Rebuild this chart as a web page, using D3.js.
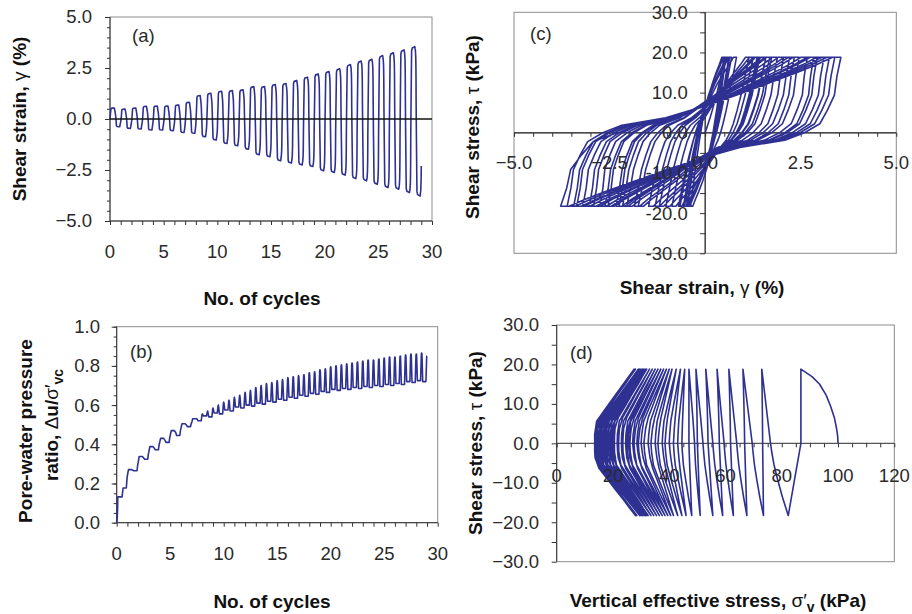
<!DOCTYPE html>
<html><head><meta charset="utf-8">
<script src="https://cdn.jsdelivr.net/npm/d3@7/dist/d3.min.js"></script>
<style>
body{margin:0;background:#fff;}
svg{display:block;font-family:"Liberation Sans",Arial,Helvetica,sans-serif;}
</style></head><body>
<svg id="fig" width="912" height="614"></svg>
<script>
// ---- Cyclic simple-shear test record (29 cycles) ----
// Peak shear strain reached in each cycle (%)
const CYCLE_STRAIN_MAX = [0.54,0.49,0.54,0.62,0.64,0.64,0.69,0.82,1.15,1.26,1.36,1.39,1.43,1.59,1.59,1.69,1.74,1.89,2.05,2.21,2.33,2.46,2.67,2.84,2.93,3.11,3.25,3.39,3.55];
const CYCLE_STRAIN_MIN = [-0.38,-0.46,-0.49,-0.54,-0.54,-0.57,-0.66,-0.70,-0.87,-1.03,-1.20,-1.31,-1.48,-1.75,-1.85,-2.05,-2.16,-2.25,-2.33,-2.54,-2.62,-2.75,-2.92,-3.03,-3.20,-3.36,-3.44,-3.61,-3.78];
const STRAIN_END = -2.3;
// Cyclic shear stress amplitude (kPa)
const TAU_POS = 18.8, TAU_NEG = -18.3;
// Vertical effective stress (kPa): start, at +peak, at -peak, and at the zero-stress crossings
const SIG_START = 100;
const SIG_PEAK_POS = [86.8,72.9,66.2,61.2,57.0,53.0,49.5,47.0,45.5,44.0,42.5,41.0,40.0,39.0,38.0,37.0,36.0,35.0,34.0,33.0,32.0,31.5,31.0,30.5,30.0,29.5,29.0,28.0,27.5];
const SIG_PEAK_NEG = [82.3,73.5,67.6,62.8,59.0,55.5,51.0,48.0,46.0,44.5,43.0,41.5,40.5,39.5,38.5,37.5,36.5,35.5,34.5,33.5,32.5,32.0,31.5,31.0,30.5,30.0,29.5,28.5,28.0];
const SIG_ZERO_UP   = [76.0,69.5,64.0,59.5,55.5,52.0,49.0,44.5,41.5,38.5,36.0,33.5,31.0,29.0,27.5,26.0,25.0,23.5,22.0,20.5,19.5,18.5,17.5,17.0,16.0,15.5,14.5,14.0,15.0];
const SIG_ZERO_DOWN = [86.8,73.2,66.8,61.8,57.8,53.8,50.0,47.0,43.0,40.0,37.5,35.0,32.5,30.0,28.5,27.0,25.5,24.5,23.0,21.5,20.0,19.0,18.0,17.0,16.5,15.5,15.0,14.0,13.5];
// How far each cycle's loop has turned from the narrow early shape to the S shape
const LOOP_SHAPE_WEIGHT = [0,0,0,0,0,0,0.05,0.15,0.3,0.4,0.5,0.55,0.6,0.65,0.7,0.75,0.8,0.85,0.9,0.9,0.95,0.95,1,1,1,1,1,1,1];

// Loop shapes along one stress reversal (s = -1 … +1 of the amplitude)
const RAMP_KNOTS = [-1,-0.75,-0.5,-0.3,-0.12,0,0.1,0.2,0.35,0.5,0.65,0.8,0.9,1];
const LOOP_EARLY = [0,0.07,0.14,0.2,0.26,0.3,0.34,0.38,0.46,0.55,0.65,0.77,0.86,0.94];
const LOOP_LATE  = [0,0.014,0.023,0.048,0.075,0.13,0.2,0.36,0.5,0.62,0.73,0.84,0.91,0.97];
const PATH_EARLY = [1,0.68,0.4,0.2,0.07,0,0.1,0.2,0.35,0.5,0.65,0.8,0.9,1];
const PATH_LATE  = [1,0.66,0.32,0.05,0,0,0,0.01,0.11,0.32,0.52,0.73,0.86,1];
const FIRST_LOAD_STRAIN = [0,0.12,0.24,0.4,0.55,0.68,0.8,0.88,0.95];
const FIRST_LOAD_SIG    = [0,0.01,0.04,0.1,0.2,0.32,0.5,0.7,1];
const HOLD_TIMES = [0.16,0.4];
const HOLD_CREEP = [0.99,1];
const RAMP_HALF = 0.1;

// Axis ticks and labels
const A_X_TICKS = [0,5,10,15,20,25,30];
const A_Y_TICKS = [-5,-2.5,0,2.5,5];
const B_X_TICKS = [0,5,10,15,20,25,30];
const B_Y_TICKS = [0,0.2,0.4,0.6,0.8,1.0];
const C_X_TICKS = [-5,-2.5,0,2.5,5];
const C_Y_TICKS = [-30,-20,-10,0,10,20,30];
const D_X_TICKS = [0,20,40,60,80,100,120];
const D_Y_TICKS = [-30,-20,-10,0,10,20,30];

// ---- build the time history: time, strain, stress, effective stress ----
const series = [];
const tauAt = (s, dir) => { const q = s * dir; return q >= 0 ? q * TAU_POS : -q * TAU_NEG; };
function ramp(tc, dir, g0, g1, sFrom, sZero, sTo, w, lastIdx) {
  const n = lastIdx === undefined ? RAMP_KNOTS.length - 1 : lastIdx;
  for (let i = 0; i <= n; i++) {
    const s = RAMP_KNOTS[i];
    const u = (1 - w) * LOOP_EARLY[i] + w * LOOP_LATE[i];
    const v = (1 - w) * PATH_EARLY[i] + w * PATH_LATE[i];
    const sig = s <= 0 ? sZero + (sFrom - sZero) * v : sZero + (sTo - sZero) * v;
    series.push({t: tc + s * RAMP_HALF, g: g0 + u * (g1 - g0), tau: tauAt(s, dir), sig});
  }
}
function hold(tc, dir, g0, g1, sig) {
  HOLD_TIMES.forEach((dt, i) => series.push({t: tc + dt, g: g0 + HOLD_CREEP[i] * (g1 - g0), tau: tauAt(1, dir), sig}));
}
const zeroIdx = RAMP_KNOTS.indexOf(0);
RAMP_KNOTS.slice(zeroIdx).forEach((s, j) => series.push({
  t: s * RAMP_HALF, g: CYCLE_STRAIN_MAX[0] * FIRST_LOAD_STRAIN[j], tau: s * TAU_POS,
  sig: SIG_START + (SIG_PEAK_POS[0] - SIG_START) * FIRST_LOAD_SIG[j]}));
hold(0, 1, 0, CYCLE_STRAIN_MAX[0], SIG_PEAK_POS[0]);
const nC = CYCLE_STRAIN_MAX.length;
for (let k = 0; k < nC; k++) {
  const w = LOOP_SHAPE_WEIGHT[k];
  ramp(k + 0.5, -1, CYCLE_STRAIN_MAX[k], CYCLE_STRAIN_MIN[k], SIG_PEAK_POS[k], SIG_ZERO_DOWN[k], SIG_PEAK_NEG[k], w);
  hold(k + 0.5, -1, CYCLE_STRAIN_MAX[k], CYCLE_STRAIN_MIN[k], SIG_PEAK_NEG[k]);
  if (k + 1 < nC) {
    const w1 = LOOP_SHAPE_WEIGHT[k + 1];
    ramp(k + 1, 1, CYCLE_STRAIN_MIN[k], CYCLE_STRAIN_MAX[k + 1], SIG_PEAK_NEG[k], SIG_ZERO_UP[k], SIG_PEAK_POS[k + 1], w1);
    hold(k + 1, 1, CYCLE_STRAIN_MIN[k], CYCLE_STRAIN_MAX[k + 1], SIG_PEAK_POS[k + 1]);
  } else {
    // test stops half way through the last reversal
    const u0 = (1 - w) * LOOP_EARLY[zeroIdx] + w * LOOP_LATE[zeroIdx];
    const g0 = CYCLE_STRAIN_MIN[k];
    ramp(k + 1, 1, g0, g0 + (STRAIN_END - g0) / u0, SIG_PEAK_NEG[k], SIG_ZERO_UP[k], SIG_PEAK_NEG[k], w, zeroIdx);
  }
}

// ---- drawing helpers ----
const svg = d3.select('#fig');
const BLUE = '#2e3192', FRAME = '#8c8c8c', AXIS = '#333', TXT = '#2a2a2a';
const minus = s => s.replace('-', '\u2212');
function frame(x, y) {
  svg.append('rect').attr('x', x.range()[0]).attr('y', y.range()[1])
    .attr('width', x.range()[1] - x.range()[0]).attr('height', y.range()[0] - y.range()[1])
    .attr('fill', 'none').attr('stroke', FRAME).attr('stroke-width', 1);
}
function hLine(x, yPos, color, wdt) {
  svg.append('line').attr('x1', x.range()[0]).attr('x2', x.range()[1]).attr('y1', yPos).attr('y2', yPos)
    .attr('stroke', color).attr('stroke-width', wdt);
}
function vLine(y, xPos, color, wdt) {
  svg.append('line').attr('y1', y.range()[0]).attr('y2', y.range()[1]).attr('x1', xPos).attr('x2', xPos)
    .attr('stroke', color).attr('stroke-width', wdt);
}
function ticks(gen, at, values, size) {
  const g = svg.append('g').attr('transform', at)
    .call(gen.tickValues(values).tickSize(size).tickFormat(''));
  g.select('.domain').remove();
  g.selectAll('line').attr('stroke', AXIS).attr('stroke-width', 1);
}
function labels(values, fmt, px, py, anchor) {
  values.forEach(v => svg.append('text').attr('x', px(v)).attr('y', py(v)).attr('dy', '0.35em')
    .attr('text-anchor', anchor).attr('font-size', 18.5).attr('fill', TXT).text(fmt(v)));
}
function title(x, y, rot, parts) {
  const t = svg.append('text').attr('transform', `translate(${x},${y})` + (rot ? ' rotate(-90)' : ''))
    .attr('text-anchor', 'middle').attr('dy', '0.35em').attr('font-size', 19).attr('fill', '#111');
  parts.forEach(p => {
    const sp = t.append('tspan').attr('font-weight', p.w || 'bold').text(p.s);
    if (p.sub) sp.attr('dy', 5).attr('font-size', 14);
    if (p.after) sp.attr('dy', -5);
  });
}
function panelTag(x, y, s) {
  svg.append('text').attr('x', x).attr('y', y).attr('dy', '0.35em').attr('font-size', 18.5).attr('fill', TXT).text(s);
}
const dataPath = (d, lineGen) => svg.append('path').datum(d).attr('d', lineGen)
  .attr('fill', 'none').attr('stroke', BLUE).attr('stroke-width', 1.6).attr('stroke-linejoin', 'round');

// ---- (a) shear strain vs cycles ----
const xa = d3.scaleLinear().domain([0, 30]).range([110, 432]);
const ya = d3.scaleLinear().domain([-5, 5]).range([221, 17]);
frame(xa, ya);
vLine(ya, xa(0), AXIS, 1); hLine(xa, ya(-5), AXIS, 1);
ticks(d3.axisLeft(ya), `translate(${xa(0)},0)`, d3.range(-5, 5.001, 0.5), 3);
ticks(d3.axisLeft(ya), `translate(${xa(0)},0)`, A_Y_TICKS, 5);
ticks(d3.axisBottom(xa), `translate(0,${ya(-5)})`, d3.range(0, 30.001, 1), 4);
dataPath(series, d3.line().x(d => xa(d.t)).y(d => ya(d.g)));
hLine(xa, ya(0), '#111', 1.6);
labels(A_Y_TICKS, v => minus(v.toFixed(1)), () => 92, v => ya(v), 'end');
labels(A_X_TICKS, v => String(v), v => xa(v), () => 252, 'middle');
panelTag(132, 36, '(a)');
title(262, 298, false, [{s: 'No. of cycles'}]);
title(19, 119, true, [{s: 'Shear strain, '}, {s: 'γ', w: 'normal'}, {s: ' (%)'}]);

// ---- (b) pore-water pressure ratio vs cycles ----
const xb = d3.scaleLinear().domain([0, 30]).range([116.7, 437.7]);
const yb = d3.scaleLinear().domain([0, 1]).range([522.7, 326.7]);
frame(xb, yb);
vLine(yb, xb(0), AXIS, 1); hLine(xb, yb(0), AXIS, 1);
ticks(d3.axisLeft(yb), `translate(${xb(0)},0)`, d3.range(0, 1.0001, 0.05), 3);
ticks(d3.axisLeft(yb), `translate(${xb(0)},0)`, B_Y_TICKS, 5);
ticks(d3.axisBottom(xb), `translate(0,${yb(0)})`, d3.range(0, 30.001, 1), 4);
dataPath(series, d3.line().x(d => xb(d.t)).y(d => yb(1 - d.sig / SIG_START)));
labels(B_Y_TICKS, v => v.toFixed(1), () => 100, v => yb(v), 'end');
labels(B_X_TICKS, v => String(v), v => xb(v), () => 554, 'middle');
panelTag(130, 352, '(b)');
title(272, 601, false, [{s: 'No. of cycles'}]);
title(25, 431, true, [{s: 'Pore-water pressure'}]);
title(51, 425, true, [{s: 'ratio, '}, {s: 'Δ', w: 'normal'}, {s: 'u/'}, {s: 'σ′', w: 'normal'}, {s: 'vc', sub: true}]);

// ---- (c) stress-strain loops ----
const xc = d3.scaleLinear().domain([-5, 5]).range([514, 896.3]);
const yc = d3.scaleLinear().domain([-30, 30]).range([253.3, 12.3]);
frame(xc, yc);
vLine(yc, xc(0), '#111', 1.2); hLine(xc, yc(0), '#111', 1.2);
ticks(d3.axisLeft(yc), `translate(${xc(0)},0)`, d3.range(-30, 30.001, 5), 5);
ticks(d3.axisBottom(xc), `translate(0,${yc(0)})`, d3.range(-5, 5.001, 0.5), 4);
dataPath(series, d3.line().x(d => xc(d.g)).y(d => yc(d.tau)));
labels(C_Y_TICKS, v => v.toFixed(1), () => 687.7, v => yc(v), 'end');
labels(C_X_TICKS, v => minus(v.toFixed(1)), v => xc(v), () => 163, 'middle');
panelTag(530, 34, '(c)');
title(702, 287, false, [{s: 'Shear strain, '}, {s: 'γ', w: 'normal'}, {s: ' (%)'}]);
title(472, 127, true, [{s: 'Shear stress, '}, {s: 'τ', w: 'normal'}, {s: ' (kPa)'}]);

// ---- (d) effective stress path ----
const xd = d3.scaleLinear().domain([0, 120]).range([556.7, 894.3]);
const yd = d3.scaleLinear().domain([-30, 30]).range([561.7, 325]);
frame(xd, yd);
vLine(yd, xd(0), AXIS, 1); hLine(xd, yd(0), '#555', 1.2);
ticks(d3.axisLeft(yd), `translate(${xd(0)},0)`, d3.range(-30, 30.001, 5), 5);
ticks(d3.axisBottom(xd), `translate(0,${yd(0)})`, d3.range(0, 120.001, 5), 4);
dataPath(series, d3.line().x(d => xd(d.sig)).y(d => yd(d.tau)));
labels(D_Y_TICKS, v => minus(v.toFixed(1)), () => 539, v => yd(v), 'end');
labels(D_X_TICKS, v => String(v), v => xd(v), () => 476, 'middle');
panelTag(570, 353, '(d)');
title(718, 600, false, [{s: 'Vertical effective stress, '}, {s: 'σ′', w: 'normal'}, {s: 'v', sub: true}, {s: ' (kPa)', after: true}]);
title(475, 443, true, [{s: 'Shear stress, '}, {s: 'τ', w: 'normal'}, {s: ' (kPa)'}]);
</script></body></html>
